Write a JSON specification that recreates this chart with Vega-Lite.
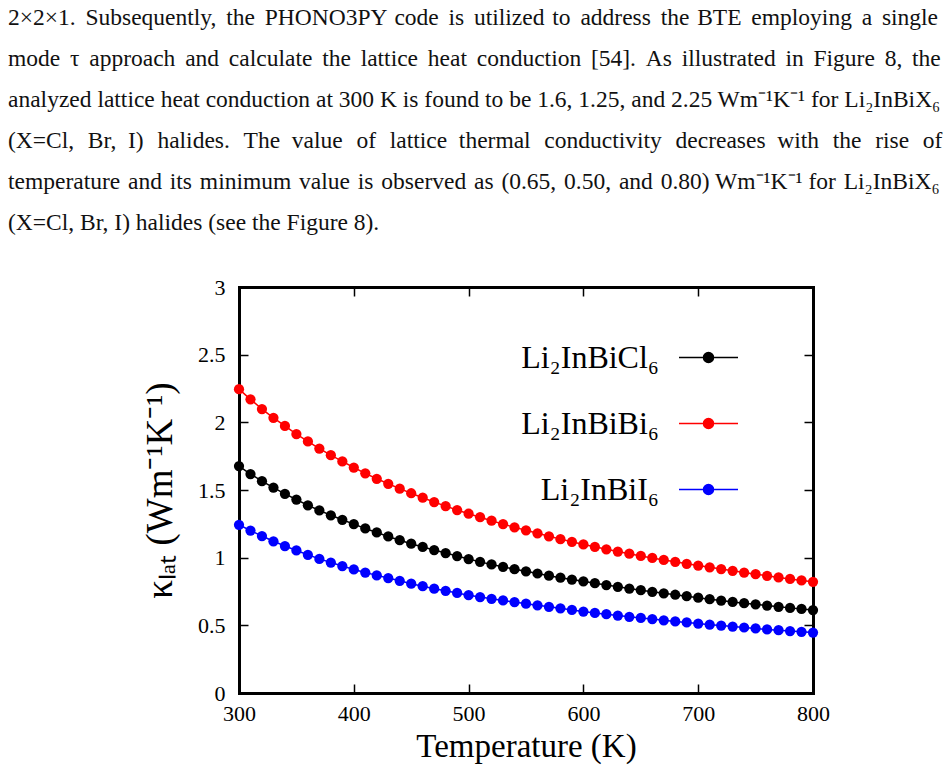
{
  "$schema": "https://vega.github.io/schema/vega-lite/v6.json",
  "autosize": {"type": "none"},
  "width": 574,
  "height": 406,
  "padding": {"left": 239, "top": 287, "right": 136, "bottom": 81},
  "background": "white",
  "title": {
    "text": [
      "2×2×1. \u2006Subsequently, \u2006the \u2006PHONO3PY \u200Acode \u2006is \u2006utilized \u200Ato \u2006address \u2006the \u200ABTE \u2006employing \u2006a \u2006single",
      "mode \u2006τ \u2006approach \u2006and \u2006calculate \u2006the \u2006lattice \u2006heat \u2006conduction \u2006[54]. \u2006As \u2006illustrated \u2006in \u2006Figure \u20068, \u2006the",
      "analyzed lattice heat conduction at 300 K is found to be 1.6, 1.25, and 2.25 Wm⁻¹K⁻¹ for Li₂InBiX₆",
      "(X=Cl, \u2004Br, \u2005I) \u2004halides. \u2004The \u2005value \u2004of \u2004lattice \u2005thermal \u2004conductivity \u2004decreases \u2005with \u2004the \u2004rise \u2004of",
      "temperature \u200Aand \u200Aits \u200Aminimum \u200Avalue \u200Ais \u200Aobserved \u200Aas \u200A(0.65, \u200A0.50, \u200Aand \u200A0.80) Wm⁻¹K⁻¹ for \u200ALi₂InBiX₆",
      "(X=Cl, Br, I) halides (see the Figure 8)."
    ],
    "anchor": "start",
    "frame": "group",
    "orient": "top",
    "dx": -231,
    "offset": 42,
    "font": "Liberation Serif",
    "fontSize": 23.5,
    "fontWeight": "normal",
    "lineHeight": 41,
    "color": "#111111"
  },
  "datasets": {
    "kappa": [
      {"T": 300, "k": 1.677, "m": "Li₂InBiCl₆"}, {"T": 310, "k": 1.618, "m": "Li₂InBiCl₆"}, {"T": 320, "k": 1.565, "m": "Li₂InBiCl₆"},
      {"T": 330, "k": 1.518, "m": "Li₂InBiCl₆"}, {"T": 340, "k": 1.472, "m": "Li₂InBiCl₆"}, {"T": 350, "k": 1.429, "m": "Li₂InBiCl₆"},
      {"T": 360, "k": 1.387, "m": "Li₂InBiCl₆"}, {"T": 370, "k": 1.349, "m": "Li₂InBiCl₆"}, {"T": 380, "k": 1.313, "m": "Li₂InBiCl₆"},
      {"T": 390, "k": 1.280, "m": "Li₂InBiCl₆"}, {"T": 400, "k": 1.248, "m": "Li₂InBiCl₆"}, {"T": 410, "k": 1.216, "m": "Li₂InBiCl₆"},
      {"T": 420, "k": 1.186, "m": "Li₂InBiCl₆"}, {"T": 430, "k": 1.157, "m": "Li₂InBiCl₆"}, {"T": 440, "k": 1.129, "m": "Li₂InBiCl₆"},
      {"T": 450, "k": 1.103, "m": "Li₂InBiCl₆"}, {"T": 460, "k": 1.079, "m": "Li₂InBiCl₆"}, {"T": 470, "k": 1.056, "m": "Li₂InBiCl₆"},
      {"T": 480, "k": 1.034, "m": "Li₂InBiCl₆"}, {"T": 490, "k": 1.012, "m": "Li₂InBiCl₆"}, {"T": 500, "k": 0.990, "m": "Li₂InBiCl₆"},
      {"T": 510, "k": 0.969, "m": "Li₂InBiCl₆"}, {"T": 520, "k": 0.950, "m": "Li₂InBiCl₆"}, {"T": 530, "k": 0.932, "m": "Li₂InBiCl₆"},
      {"T": 540, "k": 0.915, "m": "Li₂InBiCl₆"}, {"T": 550, "k": 0.899, "m": "Li₂InBiCl₆"}, {"T": 560, "k": 0.883, "m": "Li₂InBiCl₆"},
      {"T": 570, "k": 0.867, "m": "Li₂InBiCl₆"}, {"T": 580, "k": 0.852, "m": "Li₂InBiCl₆"}, {"T": 590, "k": 0.838, "m": "Li₂InBiCl₆"},
      {"T": 600, "k": 0.825, "m": "Li₂InBiCl₆"}, {"T": 610, "k": 0.811, "m": "Li₂InBiCl₆"}, {"T": 620, "k": 0.798, "m": "Li₂InBiCl₆"},
      {"T": 630, "k": 0.785, "m": "Li₂InBiCl₆"}, {"T": 640, "k": 0.772, "m": "Li₂InBiCl₆"}, {"T": 650, "k": 0.760, "m": "Li₂InBiCl₆"},
      {"T": 660, "k": 0.748, "m": "Li₂InBiCl₆"}, {"T": 670, "k": 0.737, "m": "Li₂InBiCl₆"}, {"T": 680, "k": 0.726, "m": "Li₂InBiCl₆"},
      {"T": 690, "k": 0.715, "m": "Li₂InBiCl₆"}, {"T": 700, "k": 0.704, "m": "Li₂InBiCl₆"}, {"T": 710, "k": 0.693, "m": "Li₂InBiCl₆"},
      {"T": 720, "k": 0.683, "m": "Li₂InBiCl₆"}, {"T": 730, "k": 0.673, "m": "Li₂InBiCl₆"}, {"T": 740, "k": 0.664, "m": "Li₂InBiCl₆"},
      {"T": 750, "k": 0.655, "m": "Li₂InBiCl₆"}, {"T": 760, "k": 0.646, "m": "Li₂InBiCl₆"}, {"T": 770, "k": 0.637, "m": "Li₂InBiCl₆"},
      {"T": 780, "k": 0.629, "m": "Li₂InBiCl₆"}, {"T": 790, "k": 0.621, "m": "Li₂InBiCl₆"}, {"T": 800, "k": 0.613, "m": "Li₂InBiCl₆"},

      {"T": 300, "k": 2.245, "m": "Li₂InBiBi₆"}, {"T": 310, "k": 2.170, "m": "Li₂InBiBi₆"}, {"T": 320, "k": 2.098, "m": "Li₂InBiBi₆"},
      {"T": 330, "k": 2.033, "m": "Li₂InBiBi₆"}, {"T": 340, "k": 1.973, "m": "Li₂InBiBi₆"}, {"T": 350, "k": 1.913, "m": "Li₂InBiBi₆"},
      {"T": 360, "k": 1.859, "m": "Li₂InBiBi₆"}, {"T": 370, "k": 1.806, "m": "Li₂InBiBi₆"}, {"T": 380, "k": 1.757, "m": "Li₂InBiBi₆"},
      {"T": 390, "k": 1.711, "m": "Li₂InBiBi₆"}, {"T": 400, "k": 1.666, "m": "Li₂InBiBi₆"}, {"T": 410, "k": 1.623, "m": "Li₂InBiBi₆"},
      {"T": 420, "k": 1.583, "m": "Li₂InBiBi₆"}, {"T": 430, "k": 1.546, "m": "Li₂InBiBi₆"}, {"T": 440, "k": 1.510, "m": "Li₂InBiBi₆"},
      {"T": 450, "k": 1.476, "m": "Li₂InBiBi₆"}, {"T": 460, "k": 1.443, "m": "Li₂InBiBi₆"}, {"T": 470, "k": 1.411, "m": "Li₂InBiBi₆"},
      {"T": 480, "k": 1.381, "m": "Li₂InBiBi₆"}, {"T": 490, "k": 1.352, "m": "Li₂InBiBi₆"}, {"T": 500, "k": 1.325, "m": "Li₂InBiBi₆"},
      {"T": 510, "k": 1.299, "m": "Li₂InBiBi₆"}, {"T": 520, "k": 1.273, "m": "Li₂InBiBi₆"}, {"T": 530, "k": 1.248, "m": "Li₂InBiBi₆"},
      {"T": 540, "k": 1.224, "m": "Li₂InBiBi₆"}, {"T": 550, "k": 1.202, "m": "Li₂InBiBi₆"}, {"T": 560, "k": 1.180, "m": "Li₂InBiBi₆"},
      {"T": 570, "k": 1.158, "m": "Li₂InBiBi₆"}, {"T": 580, "k": 1.137, "m": "Li₂InBiBi₆"}, {"T": 590, "k": 1.117, "m": "Li₂InBiBi₆"},
      {"T": 600, "k": 1.098, "m": "Li₂InBiBi₆"}, {"T": 610, "k": 1.080, "m": "Li₂InBiBi₆"}, {"T": 620, "k": 1.062, "m": "Li₂InBiBi₆"},
      {"T": 630, "k": 1.045, "m": "Li₂InBiBi₆"}, {"T": 640, "k": 1.029, "m": "Li₂InBiBi₆"}, {"T": 650, "k": 1.013, "m": "Li₂InBiBi₆"},
      {"T": 660, "k": 0.998, "m": "Li₂InBiBi₆"}, {"T": 670, "k": 0.983, "m": "Li₂InBiBi₆"}, {"T": 680, "k": 0.969, "m": "Li₂InBiBi₆"},
      {"T": 690, "k": 0.955, "m": "Li₂InBiBi₆"}, {"T": 700, "k": 0.942, "m": "Li₂InBiBi₆"}, {"T": 710, "k": 0.929, "m": "Li₂InBiBi₆"},
      {"T": 720, "k": 0.916, "m": "Li₂InBiBi₆"}, {"T": 730, "k": 0.903, "m": "Li₂InBiBi₆"}, {"T": 740, "k": 0.890, "m": "Li₂InBiBi₆"},
      {"T": 750, "k": 0.878, "m": "Li₂InBiBi₆"}, {"T": 760, "k": 0.866, "m": "Li₂InBiBi₆"}, {"T": 770, "k": 0.854, "m": "Li₂InBiBi₆"},
      {"T": 780, "k": 0.843, "m": "Li₂InBiBi₆"}, {"T": 790, "k": 0.832, "m": "Li₂InBiBi₆"}, {"T": 800, "k": 0.822, "m": "Li₂InBiBi₆"},

      {"T": 300, "k": 1.243, "m": "Li₂InBiI₆"}, {"T": 310, "k": 1.200, "m": "Li₂InBiI₆"}, {"T": 320, "k": 1.160, "m": "Li₂InBiI₆"},
      {"T": 330, "k": 1.121, "m": "Li₂InBiI₆"}, {"T": 340, "k": 1.086, "m": "Li₂InBiI₆"}, {"T": 350, "k": 1.053, "m": "Li₂InBiI₆"},
      {"T": 360, "k": 1.021, "m": "Li₂InBiI₆"}, {"T": 370, "k": 0.991, "m": "Li₂InBiI₆"}, {"T": 380, "k": 0.964, "m": "Li₂InBiI₆"},
      {"T": 390, "k": 0.938, "m": "Li₂InBiI₆"}, {"T": 400, "k": 0.913, "m": "Li₂InBiI₆"}, {"T": 410, "k": 0.890, "m": "Li₂InBiI₆"},
      {"T": 420, "k": 0.869, "m": "Li₂InBiI₆"}, {"T": 430, "k": 0.849, "m": "Li₂InBiI₆"}, {"T": 440, "k": 0.829, "m": "Li₂InBiI₆"},
      {"T": 450, "k": 0.808, "m": "Li₂InBiI₆"}, {"T": 460, "k": 0.789, "m": "Li₂InBiI₆"}, {"T": 470, "k": 0.771, "m": "Li₂InBiI₆"},
      {"T": 480, "k": 0.755, "m": "Li₂InBiI₆"}, {"T": 490, "k": 0.739, "m": "Li₂InBiI₆"}, {"T": 500, "k": 0.723, "m": "Li₂InBiI₆"},
      {"T": 510, "k": 0.709, "m": "Li₂InBiI₆"}, {"T": 520, "k": 0.696, "m": "Li₂InBiI₆"}, {"T": 530, "k": 0.684, "m": "Li₂InBiI₆"},
      {"T": 540, "k": 0.672, "m": "Li₂InBiI₆"}, {"T": 550, "k": 0.660, "m": "Li₂InBiI₆"}, {"T": 560, "k": 0.648, "m": "Li₂InBiI₆"},
      {"T": 570, "k": 0.637, "m": "Li₂InBiI₆"}, {"T": 580, "k": 0.626, "m": "Li₂InBiI₆"}, {"T": 590, "k": 0.614, "m": "Li₂InBiI₆"},
      {"T": 600, "k": 0.602, "m": "Li₂InBiI₆"}, {"T": 610, "k": 0.592, "m": "Li₂InBiI₆"}, {"T": 620, "k": 0.582, "m": "Li₂InBiI₆"},
      {"T": 630, "k": 0.572, "m": "Li₂InBiI₆"}, {"T": 640, "k": 0.563, "m": "Li₂InBiI₆"}, {"T": 650, "k": 0.555, "m": "Li₂InBiI₆"},
      {"T": 660, "k": 0.546, "m": "Li₂InBiI₆"}, {"T": 670, "k": 0.537, "m": "Li₂InBiI₆"}, {"T": 680, "k": 0.529, "m": "Li₂InBiI₆"},
      {"T": 690, "k": 0.521, "m": "Li₂InBiI₆"}, {"T": 700, "k": 0.513, "m": "Li₂InBiI₆"}, {"T": 710, "k": 0.505, "m": "Li₂InBiI₆"},
      {"T": 720, "k": 0.498, "m": "Li₂InBiI₆"}, {"T": 730, "k": 0.491, "m": "Li₂InBiI₆"}, {"T": 740, "k": 0.484, "m": "Li₂InBiI₆"},
      {"T": 750, "k": 0.477, "m": "Li₂InBiI₆"}, {"T": 760, "k": 0.470, "m": "Li₂InBiI₆"}, {"T": 770, "k": 0.464, "m": "Li₂InBiI₆"},
      {"T": 780, "k": 0.458, "m": "Li₂InBiI₆"}, {"T": 790, "k": 0.452, "m": "Li₂InBiI₆"}, {"T": 800, "k": 0.447, "m": "Li₂InBiI₆"}
    ]
  },
  "data": {"name": "kappa"},
  "config": {
    "view": {"stroke": null},
    "font": "Liberation Serif",
    "axis": {
      "domainColor": "black",
      "domainWidth": 3,
      "domainCap": "square",
      "tickColor": "black",
      "tickWidth": 1.5,
      "tickSize": -9,
      "grid": false,
      "labelFlush": false,
      "labelFont": "Liberation Serif",
      "labelFontSize": 22,
      "labelColor": "black",
      "titleFont": "Liberation Serif",
      "titleFontWeight": "normal",
      "titleColor": "black"
    }
  },
  "resolve": {"axis": {"x": "independent", "y": "independent"}},
  "layer": [
    {
      "mark": {"type": "line", "strokeWidth": 1.5},
      "encoding": {
        "x": {
          "field": "T", "type": "quantitative",
          "scale": {"domain": [300, 800], "nice": false, "zero": false},
          "axis": {
            "orient": "bottom",
            "values": [300, 400, 500, 600, 700, 800],
            "format": "d",
            "labelPadding": 19,
            "title": "Temperature (K)",
            "titleFontSize": 33,
            "titlePadding": 6
          }
        },
        "y": {
          "field": "k", "type": "quantitative",
          "scale": {"domain": [0, 3], "nice": false},
          "axis": {
            "orient": "left",
            "values": [0, 0.5, 1, 1.5, 2, 2.5, 3],
            "format": "~g",
            "labelPadding": 23,
            "title": "κₗₐₜ (Wm⁻¹K⁻¹)",
            "titleFontSize": 37,
            "titlePadding": 18
          }
        },
        "color": {
          "field": "m", "type": "nominal",
          "scale": {
            "domain": ["Li₂InBiCl₆", "Li₂InBiBi₆", "Li₂InBiI₆"],
            "range": ["#000000", "#ff0000", "#0000ff"]
          },
          "legend": {
            "orient": "none",
            "legendX": 439,
            "legendY": 40,
            "title": null,
            "symbolType": "M-1,0H1M0.17,0A0.17,0.17,0,1,1,-0.17,0A0.17,0.17,0,1,1,0.17,0Z",
            "symbolSize": 3481,
            "symbolStrokeWidth": 1.5,
            "labelAlign": "right",
            "labelOffset": -80,
            "labelFont": "Liberation Serif",
            "labelFontSize": 32,
            "labelColor": "black",
            "labelLimit": 0,
            "rowPadding": 19,
            "encode": {
              "symbols": {
                "update": {
                  "fill": {"scale": "color", "field": "value"},
                  "stroke": {"scale": "color", "field": "value"},
                  "opacity": {"value": 1}
                }
              }
            }
          }
        }
      }
    },
    {
      "mark": {"type": "point", "filled": true, "size": 105, "opacity": 1},
      "encoding": {
        "x": {
          "field": "T", "type": "quantitative",
          "axis": {"orient": "top", "values": [300, 400, 500, 600, 700, 800], "labels": false, "title": null}
        },
        "y": {
          "field": "k", "type": "quantitative",
          "axis": {"orient": "right", "values": [0, 0.5, 1, 1.5, 2, 2.5, 3], "labels": false, "title": null}
        },
        "color": {"field": "m", "type": "nominal"}
      }
    }
  ]
}
